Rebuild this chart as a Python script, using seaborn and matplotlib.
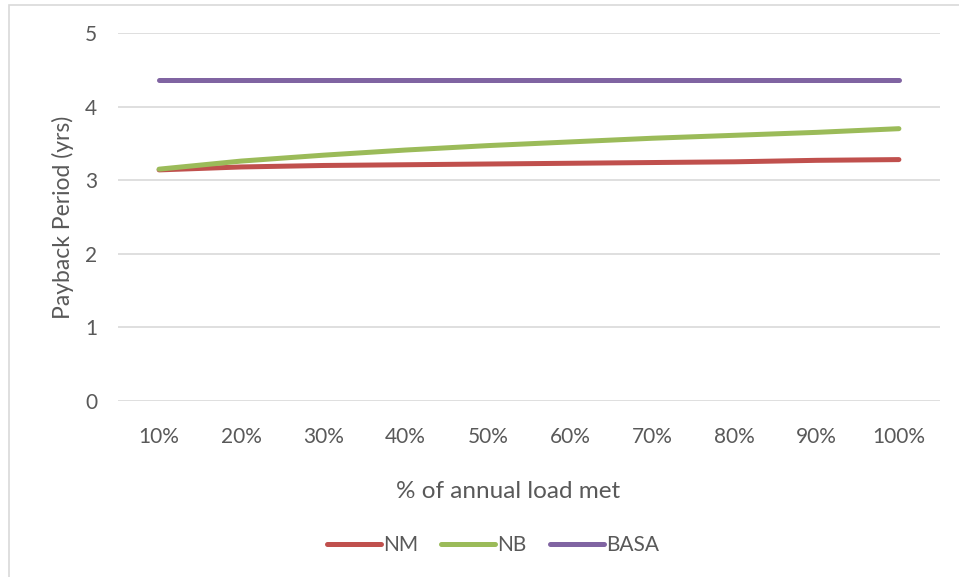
import matplotlib
matplotlib.use("Agg")
import matplotlib.pyplot as plt
import seaborn as sns
import pandas as pd
from matplotlib.patches import Rectangle

load_met = ["10%", "20%", "30%", "40%", "50%", "60%", "70%", "80%", "90%", "100%"]
nm = [3.14, 3.18, 3.20, 3.21, 3.22, 3.23, 3.24, 3.25, 3.27, 3.28]
nb = [3.15, 3.26, 3.34, 3.41, 3.47, 3.52, 3.57, 3.61, 3.65, 3.70]
basa = [4.36, 4.36, 4.36, 4.36, 4.36, 4.36, 4.36, 4.36, 4.36, 4.36]
series_names = ["NM", "NB", "BASA"]
y_ticks = [0, 1, 2, 3, 4, 5]

df = pd.DataFrame({"load": load_met, "NM": nm, "NB": nb, "BASA": basa})
long = df.melt(id_vars="load", var_name="series", value_name="payback")
long["pos"] = long["load"].map({k: i for i, k in enumerate(load_met)})

sns.set_theme(style="white")
plt.rcParams["font.family"] = ["Lato", "DejaVu Sans"]

fig = plt.figure(figsize=(9.59, 5.77), dpi=100)
ax = fig.add_axes([118 / 959, 1 - 401 / 577, (940 - 118) / 959, (401 - 33) / 577])

palette = {"NM": "#c0504d", "NB": "#9bbb59", "BASA": "#8064a2"}
lw = 3.6
sns.lineplot(data=long, x="pos", y="payback", hue="series", hue_order=series_names,
             palette=palette, linewidth=lw, ax=ax, legend=False,
             solid_capstyle="round")

ax.set_xlim(-0.5, len(load_met) - 0.5)
ax.set_ylim(0, 5)
ax.set_xticks(range(len(load_met)))
ax.set_xticklabels(load_met)
ax.set_yticks(y_ticks)
ax.grid(axis="y", color="#d9d9d9", linewidth=1.2)
ax.grid(axis="x", visible=False)
for s in ax.spines.values():
    s.set_visible(False)
text_col = "#595959"
ax.tick_params(axis="both", length=0, labelsize=15, colors=text_col)
ax.tick_params(axis="x", pad=19)
ax.tick_params(axis="y", pad=15)
ax.set_xlabel("% of annual load met", fontsize=17.5, color=text_col)
ax.xaxis.set_label_coords(0.475, -0.217)
ax.set_ylabel("Payback Period (yrs)", fontsize=16.5, color=text_col, labelpad=8)

handles = [plt.Line2D([0], [0], color=palette[n], linewidth=lw, solid_capstyle="round")
           for n in series_names]
fig.legend(handles, series_names, loc="center", bbox_to_anchor=(493 / 959, 1 - 545 / 577),
           ncol=3, frameon=False, fontsize=15, labelcolor=text_col,
           handlelength=2.6, handletextpad=0.1, columnspacing=1.1)

# chart area border (top and left edges)
fig.patches.append(Rectangle((9 / 959, -0.05), 1.1, 1 - 5 / 577 + 0.05,
                             transform=fig.transFigure, fill=False,
                             edgecolor="#d9d9d9", linewidth=1.2))

fig.savefig("out.png", dpi=100, facecolor="white")
